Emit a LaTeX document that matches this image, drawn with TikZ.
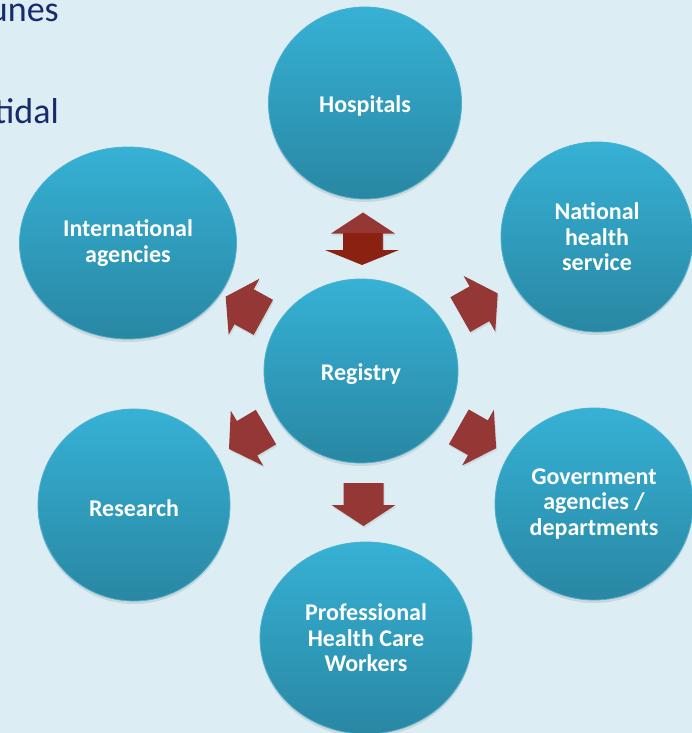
\documentclass[tikz,border=0pt]{standalone}
\usepackage{fontspec}
\setmainfont{Carlito}
\usetikzlibrary{shapes.geometric,shadows,calc}
\definecolor{bgblue}{RGB}{220,237,243}
\definecolor{navy}{RGB}{22,42,108}
\definecolor{bubbletop}{RGB}{54,177,213}
\definecolor{bubblebot}{RGB}{41,135,163}
\definecolor{bubbleedge}{RGB}{76,176,208}
\definecolor{arrowred}{RGB}{149,55,52}
\definecolor{arrowdark}{RGB}{139,34,17}
\newcommand{\bubblefont}{\bfseries\fontsize{24}{25.5}\selectfont}

\tikzset{
  bubble/.style={ellipse, inner sep=0pt, shading=axis, top color=bubbletop,
    bottom color=bubblebot, draw=bubbleedge, line width=0.8pt, text=white,
    font=\bubblefont, align=center,
    execute at begin node={\rule{0pt}{23pt}},
    drop shadow={shadow xshift=0pt, shadow yshift=-3pt, opacity=0.2}},
  blockarrow/.style={fill=arrowred,
    drop shadow={shadow xshift=1pt, shadow yshift=-2pt, opacity=0.15}},
  slidetext/.style={anchor=base east, inner sep=0pt, text=navy,
    font=\fontsize{36}{40}\selectfont},
}

\begin{document}
\begin{tikzpicture}[x=1pt,y=-1pt]
                % Background
                \fill[bgblue] (0,0) rectangle (692,733);
                \useasboundingbox (0,0) rectangle (692,733);
                \clip (0,0) rectangle (692,733);
                \node[slidetext] (line1) at (59,22) {unes};
                \node[slidetext] (line2) at (59,124) {tidal};

                % Bubbles
                \node[bubble, minimum width=193pt, minimum height=192pt] (hosp) at (365,103) {Hospitals};
                \node[bubble, minimum width=217pt, minimum height=192pt] (intl) at (128,243) {International\\agencies};
                \node[bubble, minimum width=192pt, minimum height=190pt] (nhs) at (597,237) {National\\health\\service};
                \node[bubble, minimum width=194pt, minimum height=184pt] (reg) at (361,371) {Registry};
                \node[bubble, minimum width=192pt, minimum height=192pt] (res) at (134,505) {Research};
                \node[bubble, minimum width=198pt, minimum height=192pt] (gov) at (594,504) {Government\\agencies /\\departments};
                \node[bubble, minimum width=212pt, minimum height=192pt] (prof) at (366,638) {Professional\\Health Care\\Workers};

                % Block arrows out of the registry
                \foreach \tgt/\ang in {nhs/29.6, gov/-29.7, intl/151.2, res/210.6, prof/-90}
                  \fill[blockarrow, shift={($(reg)!0.5!(\tgt)$)}, rotate=\ang]
                    (-21.5pt,-20pt) -- (0.5pt,-20pt) -- (0.5pt,-32pt) -- (21.5pt,0pt)
                    -- (0.5pt,32pt) -- (0.5pt,20pt) -- (-21.5pt,20pt) -- cycle;

                % Double arrow to hospitals
                \fill[blockarrow, shift={(363,234)}, rotate=90]
                  (-21.5pt,-20pt) -- (0.5pt,-20pt) -- (0.5pt,-32pt) -- (21.5pt,0pt)
                  -- (0.5pt,32pt) -- (0.5pt,20pt) -- (-21.5pt,20pt) -- cycle;
                \fill[arrowdark] (343,233) -- (382,233) -- (382,250) -- (399,250)
                  -- (362,265) -- (325,250) -- (343,250) -- cycle;

            \end{tikzpicture}
\end{document}
